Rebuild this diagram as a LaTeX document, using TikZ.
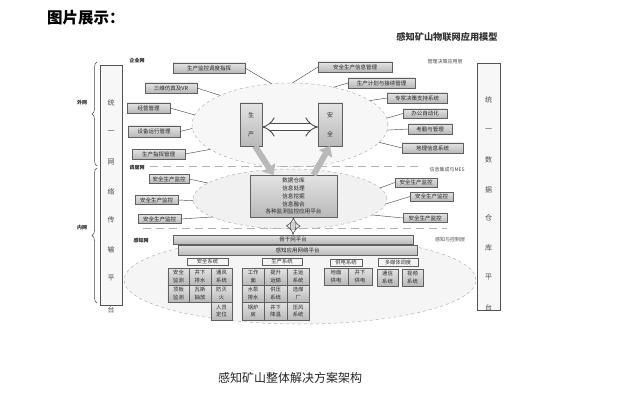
\documentclass[tikz,border=0pt]{standalone}
\usepackage{fontspec}
\setmainfont{Noto Sans CJK SC}
\usetikzlibrary{shapes.geometric,decorations.pathreplacing,arrows.meta,shadows}
\begin{document}
\begin{tikzpicture}[x=1pt,y=-1pt,
  box/.style={draw=gray!75!black, line width=0.4pt, top color=gray!22, bottom color=gray!55,
    inner sep=0pt, outer sep=0pt, minimum height=10pt, font=\fontsize{5.5}{6}\selectfont, text=black!85,
    drop shadow={shadow xshift=0.7pt, shadow yshift=-0.7pt, fill=gray!60}},
  cell/.style={box, align=center, font=\fontsize{5.3}{7.5}\selectfont, drop shadow={shadow xshift=0pt, shadow yshift=0pt, fill=gray!55, opacity=0}},
  glabel/.style={draw=gray!75!black, line width=0.4pt, fill=gray!8, inner sep=0pt, minimum height=7.5pt, font=\fontsize{5.3}{6}\selectfont, text=black!80},
  zone/.style={ellipse, draw=gray!60, dashed, line width=0.5pt, inner sep=0pt, outer sep=0pt},
  conn/.style={draw=gray!60!black, line width=0.45pt},
  sep/.style={draw=gray!60, line width=0.7pt, dash pattern=on 8pt off 5pt},
  sidebox/.style={draw=gray!65!black, line width=0.6pt, fill=gray!6, inner sep=0pt},
  vchar/.style={font=\fontsize{7}{7}\selectfont, text=black!70, inner sep=0pt},
  tag/.style={font=\fontsize{5}{5}\selectfont\bfseries, text=black!85, inner sep=0pt},
  brc/.style={draw=gray!55!black, line width=0.5pt, decorate, decoration={brace, amplitude=5pt}},
  bigarrow/.style={draw=gray!55, line width=6pt, -{Triangle[length=9pt, width=15pt]}},
  dblarrow/.style={draw=gray!60!black, line width=0.9pt, double=white, double distance=6pt, {Implies}-{Implies}}
]
\fill[white] (0,0) rectangle (617,414);
\useasboundingbox (0,0) rectangle (617,414);

% titles
\node[anchor=west, font=\fontsize{15.5}{16}\selectfont\bfseries, inner sep=0pt] (title) at (47,18) {图片展示：};
\node[font=\fontsize{9.2}{10}\selectfont\bfseries, text=black!80, inner sep=0pt] (model) at (447,37) {感知矿山物联网应用模型};
\node[font=\fontsize{12}{12}\selectfont, text=black!85, inner sep=0pt] (caption) at (290,378) {感知矿山整体解决方案架构};

% side columns
\node[sidebox, minimum width=22pt, minimum height=240pt] (LB) at (111,185) {};
\foreach \c/\y [count=\i] in {统/103,一/132,网/162,络/192,传/220,输/250,平/278,台/310}
  \node[vchar] (L\i) at (111,\y) {\c};
\node[sidebox, minimum width=23pt, minimum height=247pt] (RB) at (488.5,186.5) {};
\foreach \c/\y [count=\i] in {统/100,一/130,数/160,据/190,仓/218,库/248,平/277,台/308}
  \node[vchar] (R\i) at (488.5,\y) {\c};

% braces
\draw[brc] (97,166) -- (97,62);
\draw[brc] (97,303) -- (97,168);
\node[tag] (outer) at (82,103) {外网};
\node[tag] (inner) at (82,228) {内网};

% zones
\node[zone, fill=gray!8, minimum width=352pt, minimum height=88pt] (E3) at (300,280) {};
\node[zone, fill=gray!11, minimum width=194pt, minimum height=60pt] (E2) at (290,199) {};
\node[zone, fill=gray!6, minimum width=196pt, minimum height=84pt] (E1) at (290,125) {};

% separators
\draw[sep] (150,166) -- (422,166);
\draw[sep] (143,228) -- (447,228);

% layer labels
\node[tag] (l1) at (137,61) {企业网};
\node[tag, font=\fontsize{5}{5}\selectfont, text=black!70] (l2) at (445,62) {管理决策应用层};
\node[tag] (l3) at (137,168) {调度网};
\node[tag, font=\fontsize{5}{5}\selectfont, text=black!70] (l4) at (447,170) {信息集成与MES};
\node[tag] (l5) at (141,241) {感知网};
\node[tag, font=\fontsize{5}{5}\selectfont, text=black!70] (l6) at (450,240) {感知与控制层};

% top layer boxes
\node[box, minimum width=72pt] (T1) at (209,68) {生产监控调度指挥};
\node[box, minimum width=52pt] (T2) at (171,88) {三维仿真及VR};
\node[box, minimum width=43pt] (T3) at (148.5,108) {经营管理};
\node[box, minimum width=52pt, minimum height=11pt] (T4) at (154,131.5) {设备运行管理};
\node[box, minimum width=53pt] (T5) at (158.5,154) {生产指挥管理};
\node[box, minimum width=74pt] (U1) at (355,67) {安全生产信息管理};
\node[box, minimum width=67pt] (U2) at (381.5,83) {生产计划与接续管理};
\node[box, minimum width=60pt] (U3) at (417,98) {专家决策支持系统};
\node[box, minimum width=44pt, minimum height=9pt] (U4) at (425,113.5) {办公自动化};
\node[box, minimum width=44pt] (U5) at (430,129) {考勤与管理};
\node[box, minimum width=61pt] (U6) at (432.5,148) {地理信息系统};

\draw[conn] (T1.east) -- (E1.114);
\draw[conn] (T2.east) -- (E1.157);
\draw[conn] (T3.east) -- (E1.174);
\draw[conn] (T4.east) -- (E1.182);
\draw[conn] (T5.east) -- (E1.197);
\draw[conn] (U1.west) -- (E1.87);
\draw[conn] (U2.west) -- (E1.41);
\draw[conn] (U3.west) -- (E1.17);
\draw[conn] (U4.west) -- (E1.4);
\draw[conn] (U5.west) -- (E1.-3.5);
\draw[conn] (U6.west) -- (E1.-11);

% core boxes
\node[box, minimum width=22pt, minimum height=43pt, font=\fontsize{6}{6}\selectfont, align=center] (SC) at (251,124.5) {生\\[13pt]产};
\node[box, minimum width=24pt, minimum height=43pt, font=\fontsize{6}{6}\selectfont, align=center] (AQ) at (330,124.5) {安\\[13pt]全};
\draw[dblarrow] ([yshift=-2.5pt]SC.east) -- ([yshift=-2.5pt]AQ.west);

% middle layer
\node[box, minimum width=87pt, minimum height=42pt, align=center, font=\fontsize{5.6}{7.9}\selectfont] (DB) at (293.5,196)
  {数据仓库\\信息处理\\信息挖掘\\信息融合\\各种监测监控应用平台};
\node[box, minimum width=40pt, minimum height=9pt] (M1) at (169,179) {安全生产监控};
\node[box, minimum width=43pt, minimum height=9pt] (M2) at (156.5,200) {安全生产监控};
\node[box, minimum width=43pt, minimum height=9pt] (M3) at (159.5,219) {安全生产监控};
\node[box, minimum width=42pt, minimum height=9pt] (N1) at (416,182.5) {安全生产监控};
\node[box, minimum width=43pt, minimum height=9pt] (N2) at (431.5,196.5) {安全生产监控};
\node[box, minimum width=44pt, minimum height=9pt] (N3) at (425,218) {安全生产监控};
\draw[conn] (M1.east) -- (E2.169);
\draw[conn] (M2.east) -- (E2.181);
\draw[conn] (M3.east) -- (E2.193);
\draw[conn] (N1.west) -- (E2.7);
\draw[conn] (N2.west) -- (E2.-3);
\draw[conn] (N3.west) -- (E2.-11);

\draw[bigarrow] ([xshift=4pt]SC.south) -- ([xshift=-20pt]DB.north);
\draw[bigarrow] ([xshift=20pt]DB.north) -- (AQ.south);

% platforms
\node[box, minimum width=240pt, minimum height=9pt] (B1) at (293,239.5) {骨干网平台};
\node[box, minimum width=239pt, minimum height=10pt] (B2) at (297.5,250) {感知应用网络平台};
\draw[dblarrow, line width=0.6pt, double distance=4.5pt, double=gray!35] (DB.south) -- (B1.north);

% groups
\node[glabel, minimum width=41pt] (G1) at (207.5,261.5) {安全系统};
\node[glabel, minimum width=40pt] (G2) at (282,261.5) {生产系统};
\node[glabel, minimum width=32pt] (G3) at (346,262.5) {供电系统};
\node[glabel, minimum width=40pt, minimum height=8pt] (G4) at (398,262.5) {多媒体调度};

\node[cell, minimum width=21.5pt, minimum height=17pt] (a11) at (178.5,276.5) {安全\\监测};
\node[cell, minimum width=21.5pt, minimum height=17pt] (a12) at (200,276.5) {井下\\排水};
\node[cell, minimum width=21.5pt, minimum height=17pt] (a13) at (221.5,276.5) {通风\\系统};
\node[cell, minimum width=21.5pt, minimum height=17pt] (a21) at (178.5,293.5) {顶板\\监测};
\node[cell, minimum width=21.5pt, minimum height=17pt] (a22) at (200,293.5) {瓦斯\\抽放};
\node[cell, minimum width=21.5pt, minimum height=17pt] (a23) at (221.5,293.5) {防灭\\火};
\node[cell, minimum width=21.5pt, minimum height=18pt] (a33) at (221.5,311) {人员\\定位};

\node[cell, minimum width=22.5pt, minimum height=17pt] (b11) at (253.2,276.5) {工作\\面};
\node[cell, minimum width=22.5pt, minimum height=17pt] (b12) at (275.7,276.5) {提升\\运输};
\node[cell, minimum width=22.5pt, minimum height=17pt] (b13) at (298.2,276.5) {主运\\系统};
\node[cell, minimum width=22.5pt, minimum height=17pt] (b21) at (253.2,293.5) {水泵\\排水};
\node[cell, minimum width=22.5pt, minimum height=17pt] (b22) at (275.7,293.5) {供压\\系统};
\node[cell, minimum width=22.5pt, minimum height=17pt] (b23) at (298.2,293.5) {选煤\\厂};
\node[cell, minimum width=22.5pt, minimum height=18pt] (b31) at (253.2,311) {锅炉\\房};
\node[cell, minimum width=22.5pt, minimum height=18pt] (b32) at (275.7,311) {井下\\降温};
\node[cell, minimum width=22.5pt, minimum height=18pt] (b33) at (298.2,311) {压风\\系统};

\node[cell, minimum width=24pt, minimum height=17pt] (c11) at (336,276.5) {地面\\供电};
\node[cell, minimum width=24pt, minimum height=17pt] (c12) at (360,276.5) {井下\\供电};

\node[cell, minimum width=21pt, minimum height=17pt] (d11) at (387.5,277.5) {通信\\系统};
\node[cell, minimum width=21pt, minimum height=17pt] (d12) at (412.5,277.5) {视频\\系统};
\end{tikzpicture}
\end{document}
